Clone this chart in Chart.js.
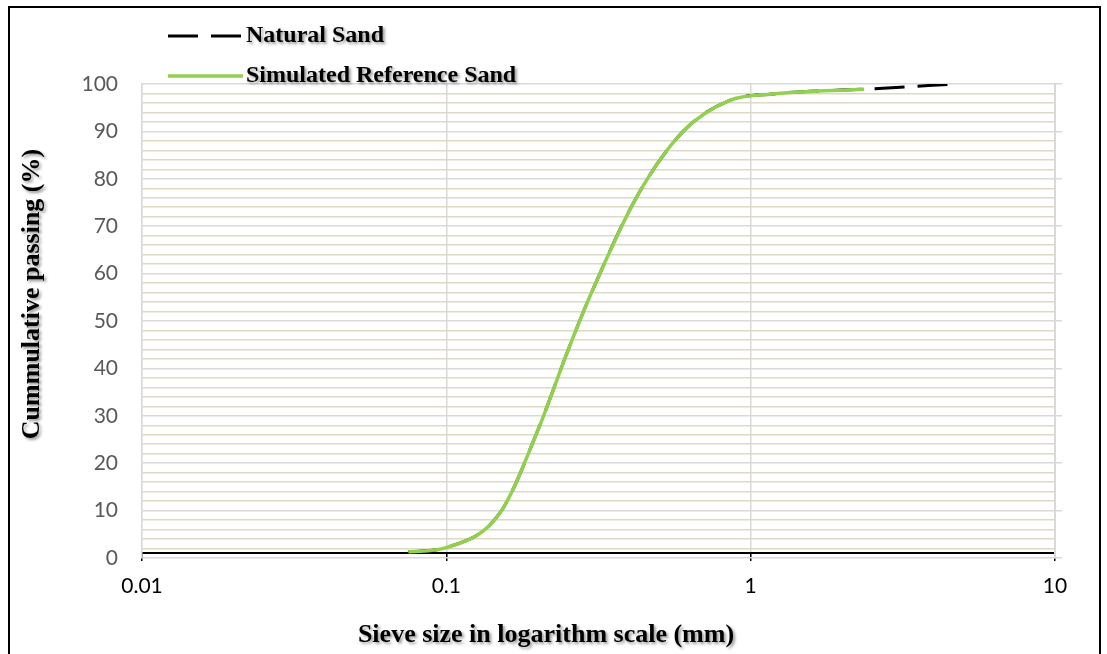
<!DOCTYPE html>
<html>
<head>
<meta charset="utf-8">
<title>Cumulative passing</title>
<script src="https://cdn.jsdelivr.net/npm/chart.js@4.4.0/dist/chart.umd.min.js"></script>
<style>
  html, body { margin: 0; padding: 0; background: #fff; }
  #wrap { width: 1107px; height: 654px; }
</style>
</head>
<body>
<div id="wrap"><canvas id="sieveChart" width="1107" height="654"></canvas></div>
<script>
// sieve sizes (mm) and cumulative passing (%)
const sieveSizes = [0.075, 0.1, 0.15, 0.2, 0.25, 0.3, 0.425, 0.6, 0.85, 1.18, 2.36, 4.75];
const naturalSand = [1.3, 2.2, 9.5, 27, 43.5, 56, 76.5, 90, 96.5, 97.9, 98.9, 100];
const simulatedSand = [1.3, 2.2, 9.5, 27, 43.5, 56, 76.5, 90, 96.5, 97.9, 98.9];
const xTicks = [0.01, 0.1, 1, 10];
const yLabels = [0, 10, 20, 30, 40, 50, 60, 70, 80, 90, 100];

const serif = '"Liberation Serif", "Times New Roman", serif';

const toPoints = (vals) => vals.map((v, i) => ({ x: sieveSizes[i], y: v }));

// legend, axis titles and frame drawn by hand (Excel-like look)
const decor = {
  id: "decor",
  beforeDraw(chart) {
    const ctx = chart.ctx;
    ctx.save();
    ctx.fillStyle = "#fff";
    ctx.fillRect(0, 0, chart.width, chart.height);
    ctx.restore();
  },
  afterDraw(chart) {
    const ctx = chart.ctx;
    ctx.save();
    ctx.strokeStyle = "#000";
    ctx.lineWidth = 2;
    ctx.strokeRect(9, 7, 1091, 700);

    const rows = [36, 76];
    chart.data.datasets.forEach((ds, i) => {
      const y = rows[i];
      ctx.save();
      ctx.strokeStyle = ds.borderColor;
      ctx.lineWidth = ds.borderWidth;
      ctx.setLineDash(ds.borderDash || []);
      ctx.beginPath();
      ctx.moveTo(168, y);
      ctx.lineTo(243, y);
      ctx.stroke();
      ctx.restore();
    });

    ctx.shadowColor = "rgba(0,0,0,0.4)";
    ctx.shadowBlur = 3;
    ctx.shadowOffsetX = 2;
    ctx.shadowOffsetY = 2;
    ctx.fillStyle = "#000";
    ctx.textBaseline = "middle";
    ctx.textAlign = "left";
    ctx.font = "bold 24px " + serif;
    chart.data.datasets.forEach((ds, i) => {
      ctx.fillText(ds.label, 246, rows[i]);
    });

    ctx.font = "bold 26px " + serif;
    ctx.textAlign = "center";
    ctx.fillText("Sieve size in logarithm scale (mm)", 546, 635);
    ctx.translate(32, 294);
    ctx.rotate(-Math.PI / 2);
    ctx.fillText("Cummulative passing (%)", 0, 0);
    ctx.restore();
  },
};

new Chart(document.getElementById("sieveChart"), {
  type: "line",
  data: {
    datasets: [
      {
        label: "Natural Sand",
        data: toPoints(naturalSand),
        borderColor: "#000000",
        borderWidth: 3,
        borderDash: [30, 13],
        pointRadius: 0,
        cubicInterpolationMode: "monotone",
        order: 1,
      },
      {
        label: "Simulated Reference Sand",
        data: toPoints(simulatedSand),
        borderColor: "#92d050",
        borderWidth: 3.5,
        pointRadius: 0,
        cubicInterpolationMode: "monotone",
        order: 0,
      },
    ],
  },
  options: {
    responsive: false,
    animation: false,
    devicePixelRatio: 1,
    layout: { padding: { top: 84, right: 44, bottom: 96, left: 0 } },
    plugins: { legend: { display: false }, tooltip: { enabled: false } },
    scales: {
      x: {
        type: "logarithmic",
        axis: "x",
        position: { y: 1.1 },
        min: 0.01,
        max: 10,
        afterBuildTicks: (scale) => {
          scale.ticks = xTicks.map((v) => ({ value: v }));
        },
        ticks: {
          callback: (v) => String(v),
          color: "#000",
          font: { family: "Lato", size: 21 },
          padding: 14,
          maxRotation: 0,
        },
        grid: {
          color: "#d9d9d9",
          lineWidth: 1.5,
          tickColor: "#000",
          tickLength: 7,
        },
        border: { color: "#000", width: 2 },
      },
      y: {
        type: "linear",
        position: "left",
        min: 0,
        max: 100,
        afterFit: (scale) => { scale.width = 142; },
        ticks: {
          stepSize: 2,
          autoSkip: false,
          callback: (v) => (yLabels.includes(v) ? String(v) : ""),
          color: "#595959",
          font: { family: "Lato", size: 21 },
          padding: 24,
        },
        grid: {
          drawTicks: false,
          lineWidth: 1.5,
          color: (c) => (c.tick && c.tick.value % 10 === 0 ? "#d9d9d9" : "#ddd9c4"),
        },
        border: { color: "#d9d9d9", width: 1.5 },
      },
      y2: {
        type: "linear",
        position: "right",
        min: 0,
        max: 100,
        afterFit: (scale) => { scale.width = 8; },
        ticks: { stepSize: 10, display: false },
        grid: { drawOnChartArea: false, color: "#d9d9d9", tickLength: 7, lineWidth: 1.5 },
        border: { color: "#d9d9d9", width: 2 },
      },
    },
  },
  plugins: [decor],
});
</script>
</body>
</html>
